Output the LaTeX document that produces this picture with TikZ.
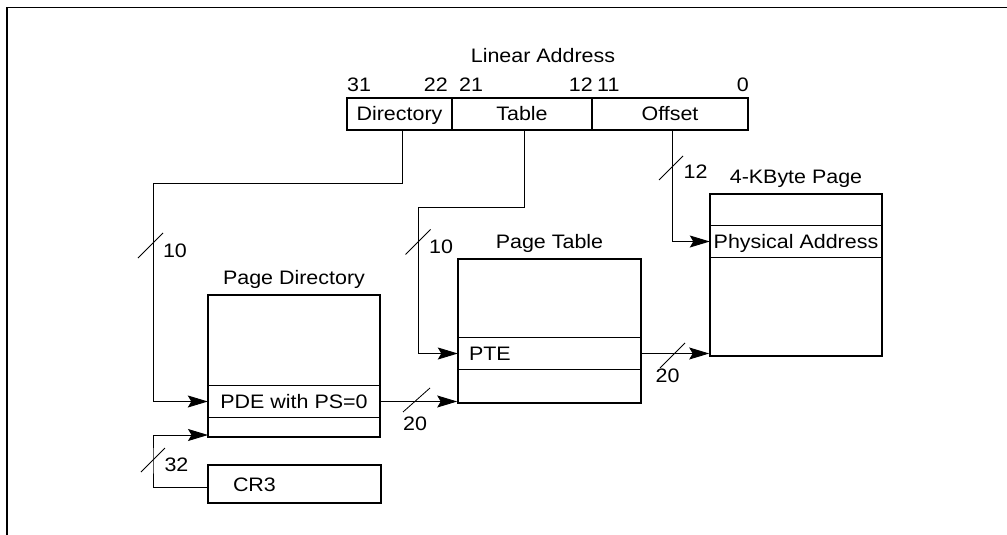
\documentclass[tikz,border=0pt]{standalone}
\usepackage{fontspec}
\setmainfont[FakeStretch=1.1]{Liberation Sans}
\usetikzlibrary{arrows.meta,calc}
\begin{document}
\begin{tikzpicture}[x=1pt,y=-1pt,
  every node/.style={font=\fontsize{19.5}{22}\selectfont, inner sep=0pt},
  cell/.style={draw, line width=1.3pt, minimum height=32pt, text height=14pt, text depth=0pt},
  box/.style={draw, line width=1.6pt},
  entry/.style={minimum height=31pt, text height=14pt, text depth=0pt},
  rule/.style={line width=0.8pt},
  conn/.style={line width=0.9pt},
  arr/.style={conn, -{Stealth[length=20pt,width=12pt,inset=3.5pt]}},
  slash/.style={line width=0.8pt},
  frame/.style={line width=1.7pt}
]
\useasboundingbox (0,0) rectangle (1007,535);
\draw[frame] (7,535) -- (7,7.5) -- (1007,7.5);

% linear address
\node[anchor=base] (lintitle) at (543,63) {Linear Address};
\node[anchor=base west] (b31) at (347,92) {31};
\node[anchor=base east] (b22) at (448,92) {22};
\node[anchor=base west] (b21) at (459,92) {21};
\node[anchor=base east] (b12) at (593,92) {12};
\node[anchor=base west] (b11) at (597,92) {11};
\node[anchor=base east] (b0) at (749,92) {0};
\node[cell, minimum width=105pt] (dir) at (399.5,114) {Directory};
\node[cell, minimum width=140pt] (tab) at (522,114) {Table};
\node[cell, minimum width=156pt] (off) at (670,114) {Offset};

% page directory
\node[box, minimum width=172pt, minimum height=142pt] (pd) at (294,366) {};
\node[anchor=base] (pdtitle) at (294,284) {Page Directory};
\node[entry, minimum width=172pt] (pde) at (294,401.5) {PDE with PS=0};
\draw[rule] (pde.north west) -- (pde.north east) (pde.south west) -- (pde.south east);

% page table
\node[box, minimum width=183pt, minimum height=144pt] (pt) at (549.5,331) {};
\node[anchor=base] (pttitle) at (549.5,248) {Page Table};
\node[entry, minimum width=183pt, text width=161pt, align=left] (pte) at (549.5,353.5) {PTE};
\draw[rule] (pte.north west) -- (pte.north east) (pte.south west) -- (pte.south east);

% 4-KByte page
\node[box, minimum width=172pt, minimum height=162pt] (pg) at (796,275) {};
\node[anchor=base] (pgtitle) at (796,183) {4-KByte Page};
\node[entry, minimum width=172pt] (phys) at (796,241.5) {Physical Address};
\draw[rule] (phys.north west) -- (phys.north east) (phys.south west) -- (phys.south east);

% CR3
\node[box, minimum width=173pt, minimum height=38pt, text width=123pt, align=left, text height=14pt, text depth=0pt] (cr3) at (294.5,484) {CR3};

% connectors
\coordinate (dtap) at (402,130);
\coordinate (dbend) at (153,183);
\draw[arr] (dtap) |- (dbend) |- (pde.west);

\coordinate (ttap) at (524,130);
\coordinate (tbend) at (418,207);
\draw[arr] (ttap) |- (tbend) |- (pte.west);

\coordinate (otap) at (672,130);
\draw[arr] (otap) |- (phys.west);

\draw[arr] (pde.east) -- (pde.east -| pt.west);
\draw[arr] (pte.east) -- (pte.east -| pg.west);

\coordinate (pdlow) at (208,435);
\coordinate (cbend) at (153,460);
\draw[arr] ([yshift=-3pt]cr3.west) -| (cbend) |- (pdlow);

% bus width marks
\draw[slash] (138,258) -- (163,233);
\node (l10a) at (175,251) {10};
\draw[slash] (405.5,254.5) -- (430.5,229.5);
\node (l10b) at (441,247) {10};
\draw[slash] (659,180) -- (683,156);
\node (l12) at (695.5,172) {12};
\draw[slash] (141,472) -- (165,448);
\node (l32) at (176.5,465) {32};
\draw[slash] (403,412) -- (430,388);
\node (l20a) at (415,424) {20};
\draw[slash] (660,368) -- (685,343);
\node (l20b) at (667.5,375.5) {20};
\end{tikzpicture}
\end{document}
